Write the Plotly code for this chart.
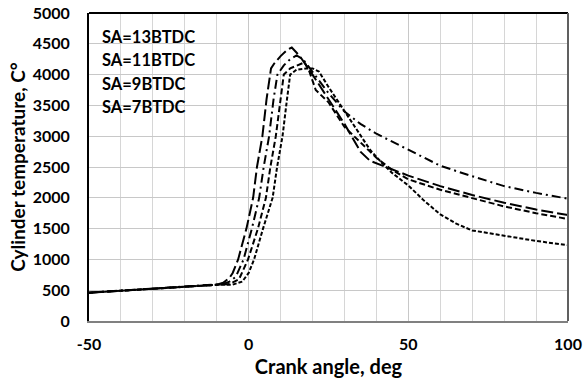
import plotly.graph_objects as go

# Crank angle (deg) and cylinder temperature (°C) for each spark advance
x_13 = [-50, -10, -8, -6, -5, -3.3, -0.7, 1.4, 2.6, 4.3, 5.6, 7, 8, 10, 12, 13.5, 16, 18, 20, 25, 30, 35, 38, 44, 50, 60, 70, 80, 90, 100]
y_13 = [460, 590, 620, 700, 780, 1000, 1500, 2000, 2500, 3000, 3600, 4100, 4180, 4300, 4400, 4440, 4300, 4150, 4000, 3600, 3200, 2750, 2600, 2480, 2360, 2190, 2045, 1920, 1810, 1720]

x_11 = [-50, -10, -8, -6, -4, -1.6, 1.0, 3.3, 4.7, 6.4, 7.8, 9, 11, 13, 15, 17, 20, 25, 30, 35, 40, 50, 55, 60, 70, 80, 90, 100]
y_11 = [460, 590, 600, 640, 720, 1000, 1500, 2000, 2500, 3000, 3600, 4000, 4150, 4250, 4310, 4250, 4050, 3700, 3400, 3200, 3040, 2780, 2640, 2520, 2350, 2190, 2080, 1985]

x_9 = [-50, -10, -6, -3, -0.2, 2.9, 5.4, 6.8, 8.5, 10, 11, 13, 15, 17.5, 19, 21, 25, 30, 35, 40, 45, 50, 60, 70, 80, 90, 100]
y_9 = [460, 590, 600, 680, 1000, 1500, 2000, 2500, 3000, 3600, 4000, 4100, 4150, 4200, 4050, 3750, 3550, 3150, 2900, 2650, 2450, 2300, 2130, 1990, 1860, 1750, 1656]

x_7 = [-50, -10, -5, -2, 0, 1.7, 4.5, 7.5, 8.9, 10.6, 12, 13, 15, 18, 20, 22, 25, 30, 35, 38, 42, 45, 50, 55, 60, 65, 70, 80, 90, 100]
y_7 = [460, 590, 590, 640, 780, 1000, 1500, 2000, 2500, 3000, 3600, 4000, 4080, 4100, 4100, 4050, 3800, 3400, 3000, 2780, 2550, 2400, 2200, 1950, 1730, 1580, 1470, 1380, 1300, 1230]

x_tick_vals = [-50, 0, 50, 100]
x_tick_text = ["-50", "0", "50", "100"]

series = [
    ("SA=13BTDC", x_13, y_13, "12px,4px"),
    ("SA=11BTDC", x_11, y_11, "9px,4px,2px,4px"),
    ("SA=9BTDC", x_9, y_9, "6px,3px"),
    ("SA=7BTDC", x_7, y_7, "4px,2px"),
]

FONT = "Lato"

fig = go.Figure()
for name, xs, ys, dash in series:
    fig.add_trace(go.Scatter(x=xs, y=ys, mode="lines", name=name,
                             line=dict(color="black", width=2, dash=dash),
                             showlegend=False))

legend_y = [0.922, 0.847, 0.769, 0.695]
for (name, *_), yy in zip(series, legend_y):
    fig.add_annotation(x=0.022, y=yy, xref="paper", yref="paper", text=name,
                       showarrow=False, xanchor="left", yanchor="middle",
                       font=dict(family=FONT, size=16.5, color="black", weight="bold"))

fig.update_layout(
    width=584, height=385,
    margin=dict(l=89, r=16, t=13, b=64),
    paper_bgcolor="white", plot_bgcolor="white",
    font=dict(family=FONT, color="black"),
)
fig.update_xaxes(
    range=[-50, 100], tickvals=x_tick_vals, ticktext=x_tick_text,
    showgrid=True, gridcolor="#c8c8c8", gridwidth=1,
    minor=dict(dtick=10, tick0=-50, showgrid=True, gridcolor="#d6d6d6", gridwidth=1),
    showline=True, linecolor="#808080", linewidth=2,
    ticks="outside", ticklen=8, tickcolor="rgba(0,0,0,0)",
    tickfont=dict(family=FONT, size=16, color="black", weight="bold"),
    title=dict(text="Crank angle, deg", font=dict(family=FONT, size=20, color="black", weight="bold"), standoff=8),
    zeroline=False, automargin=False,
)
fig.update_yaxes(
    range=[0, 5000], dtick=500,
    showgrid=True, gridcolor="#c8c8c8", gridwidth=1,
    showline=True, linecolor="black", linewidth=2,
    ticks="outside", ticklen=14, tickcolor="rgba(0,0,0,0)",
    tickfont=dict(family=FONT, size=16, color="black", weight="bold"),
    title=dict(text="Cylinder temperature, C°", font=dict(family=FONT, size=19, color="black", weight="bold"), standoff=2),
    zeroline=False, automargin=False,
)
fig.add_shape(type="line", xref="paper", yref="paper", x0=0, x1=1, y0=1, y1=1,
              line=dict(color="black", width=2))
fig.add_shape(type="line", xref="paper", yref="paper", x0=1, x1=1, y0=0, y1=1,
              line=dict(color="#606060", width=2))

fig.write_html("out.html")
